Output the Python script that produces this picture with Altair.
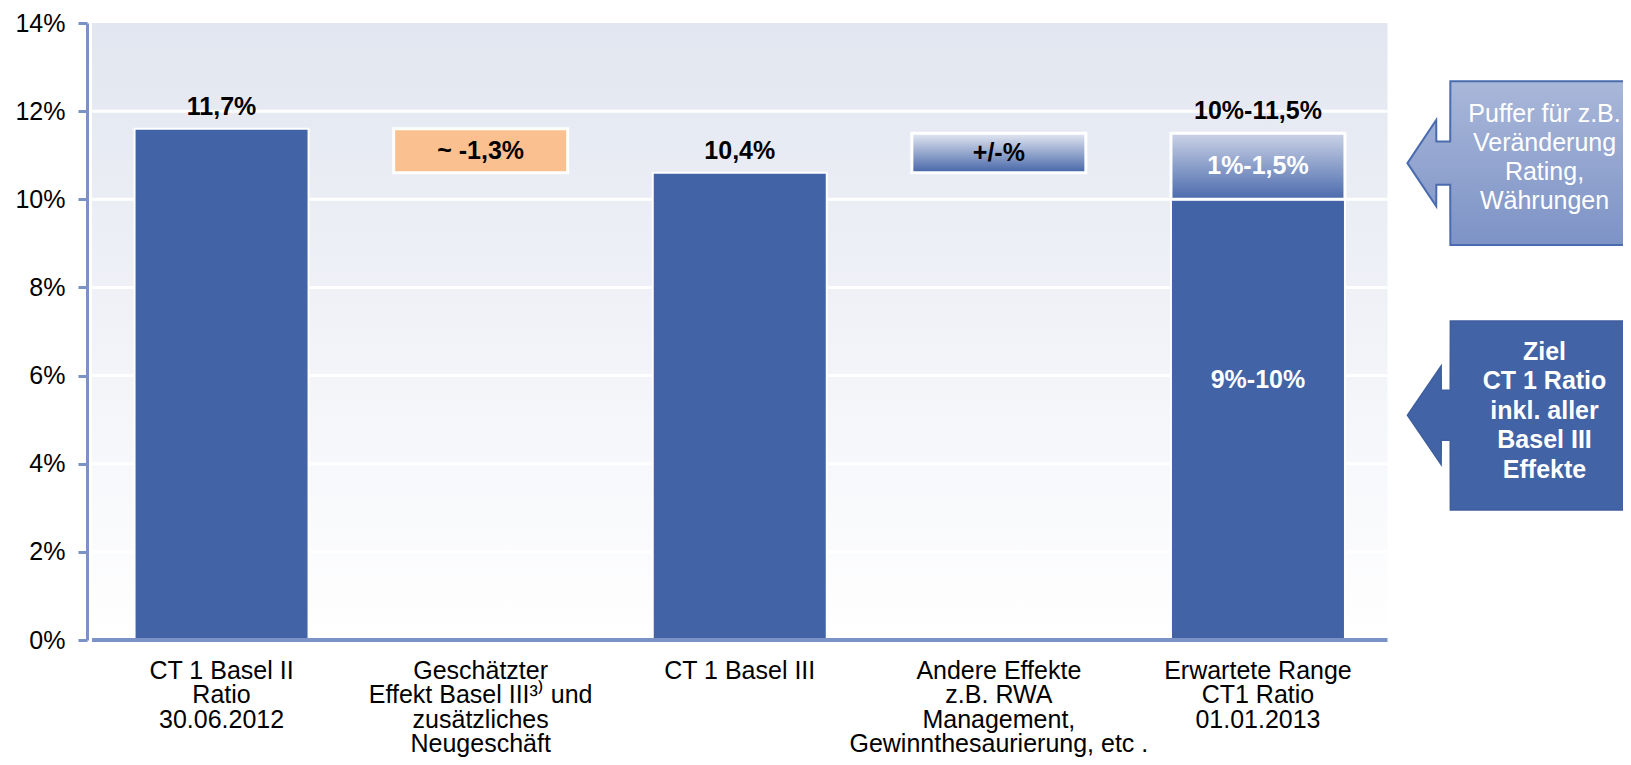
import altair as alt
import pandas as pd

# ---------------- data ----------------
categories = [
    "CT 1 Basel II\nRatio\n30.06.2012",
    "Geschätzter\nEffekt Basel III³⁾ und\nzusätzliches\nNeugeschäft",
    "CT 1 Basel III",
    "Andere Effekte\nz.B. RWA\nManagement,\nGewinnthesaurierung, etc .",
    "Erwartete Range\nCT1 Ratio\n01.01.2013",
]
category_index = [0, 1, 2, 3, 4]

bar_category = [0, 1, 2, 3, 4, 4]
bar_low = [0.0, 10.6, 0.0, 10.6, 0.0, 10.0]
bar_high = [11.6, 11.6, 10.6, 11.5, 10.0, 11.5]
bar_style = ["solid", "orange", "solid", "fade", "solid", "fade2"]

top_label_category = [0, 2, 4]
top_label_text = ["11,7%", "10,4%", "10%-11,5%"]
top_label_value = [11.6, 10.6, 11.5]

inner_label_category = [1, 3, 4, 4]
inner_label_text = ["~ -1,3%", "+/-%", "1%-1,5%", "9%-10%"]
inner_label_value = [11.1, 11.05, 10.75, 5.9]
inner_label_tone = ["dark", "dark", "light", "light"]

y_ticks = [0, 2, 4, 6, 8, 10, 12, 14]

callout_text = [
    "Puffer für z.B.\nVeränderung\nRating,\nWährungen",
    "Ziel\nCT 1 Ratio\ninkl. aller\nBasel III\nEffekte",
]
callout_target = [10.82, 5.1]

# ---------------- layout / style ----------------
PLOT_W, PLOT_H = 1536, 617
BAND_PX = 260.8
X_MAX = PLOT_W / BAND_PX
N_CAT = len(categories)
BAR_PX = 174
FONT = "Liberation Sans"
AXIS_COL = "#7A92C6"
BAR_COL = "#4263A5"
LH_TOP, LH_BOT = 29, 29.5

# callout arrow geometry (annotation units: x in category bands, y in %)
TIP_X, BOX_X, BOX_END, TEXT_X = 5.077, 5.242, 6.2, 5.606
callout_geom = [
    dict(head_x=5.188, head=0.98, neck=0.49, box_up=1.86, box_dn=1.86, text_dy=0.12),
    dict(head_x=5.207, head=1.12, neck=0.565, box_up=2.14, box_dn=2.15, text_dy=0.10),
]


def vgrad(top, bottom):
    return alt.Gradient(
        gradient="linear", x1=0, x2=0, y1=0, y2=1,
        stops=[alt.GradientStop(color=top, offset=0), alt.GradientStop(color=bottom, offset=1)],
    )


xs = alt.Scale(domain=[0, X_MAX], nice=False, zero=False)
ys = alt.Scale(domain=[0, 14], nice=False, zero=True)
yaxis = alt.Axis(
    values=y_ticks, labelExpr="datum.value + '%'", title=None, grid=False,
    domainColor=AXIS_COL, domainWidth=3, tickColor=AXIS_COL, tickWidth=3, tickSize=9,
    labelFontSize=25, labelFont=FONT, labelColor="black", labelPadding=13,
    labelFlush=False, labelOverlap=False, labelBound=False,
)


def X(f):
    return alt.X(f, type="quantitative", scale=xs, axis=None)


def Y(f):
    return alt.Y(f, type="quantitative", scale=ys, axis=yaxis)


# ---------------- tables ----------------
bg_df = pd.DataFrame({"x0": [0], "x1": [N_CAT], "y0": [y_ticks[0]], "y1": [y_ticks[-1]]})
grid_df = pd.DataFrame({"y": y_ticks[1:-1], "x0": 0, "x1": N_CAT})
base_df = pd.DataFrame({"y": [0], "x0": [0], "x1": [N_CAT]})
bars_df = pd.DataFrame({"cat": bar_category, "low": bar_low, "high": bar_high, "style": bar_style})
bars_df["xc"] = bars_df["cat"] + 0.5
top_df = pd.DataFrame({"cat": top_label_category, "text": top_label_text, "v": top_label_value})
top_df["xc"] = top_df["cat"] + 0.5
inner_df = pd.DataFrame({"cat": inner_label_category, "text": inner_label_text,
                         "v": inner_label_value, "tone": inner_label_tone})
inner_df["xc"] = inner_df["cat"] + 0.5
xlab_df = pd.DataFrame({"xc": [i + 0.5 for i in category_index], "y": 0, "text": categories})

arrow_rows = []
text_rows = []
for i, (t, g) in enumerate(zip(callout_target, callout_geom)):
    pts = [
        (TIP_X, t, t),
        (g["head_x"], t + g["head"], t - g["head"]),
        (g["head_x"] + 0.0005, t + g["neck"], t - g["neck"]),
        (BOX_X, t + g["neck"], t - g["neck"]),
        (BOX_X + 0.0005, t + g["box_up"], t - g["box_dn"]),
        (BOX_END, t + g["box_up"], t - g["box_dn"]),
    ]
    for px, a, b in pts:
        arrow_rows.append({"id": i, "x": px, "top": a, "bot": b})
    text_rows.append({"id": i, "x": TEXT_X, "y": t + g["text_dy"], "text": callout_text[i]})
arrow_df = pd.DataFrame(arrow_rows)
ctext_df = pd.DataFrame(text_rows)

n_lines_top = callout_text[0].count("\n")
n_lines_bot = callout_text[1].count("\n")

# ---------------- layers ----------------
background = alt.Chart(bg_df).mark_rect(color=vgrad("#E2E6F0", "#FFFFFF")).encode(
    x=X("x0"), x2="x1", y=Y("y0"), y2="y1")

grid = alt.Chart(grid_df).mark_rule(color="white", strokeWidth=3).encode(
    x=X("x0"), x2="x1", y=Y("y"))


def bar_layer(style, fill, stroke_w):
    return alt.Chart(bars_df).transform_filter(alt.datum.style == style).mark_bar(
        size=BAR_PX, color=fill, stroke="white", strokeWidth=stroke_w).encode(
        x=X("xc"), y=Y("low"), y2="high")


bars_solid = bar_layer("solid", BAR_COL, 2)
bars_orange = bar_layer("orange", "#FAC090", 3)
bars_fade = bar_layer("fade", vgrad("#E4E8F2", "#4565A8"), 3)
bars_fade2 = bar_layer("fade2", vgrad("#CBD3E6", "#4B6AAD"), 3)

baseline = alt.Chart(base_df).mark_rule(color=AXIS_COL, strokeWidth=4).encode(
    x=X("x0"), x2="x1", y=Y("y"))

top_labels = alt.Chart(top_df).mark_text(
    font=FONT, fontSize=25, fontWeight="bold", color="black", baseline="middle", dy=-22).encode(
    x=X("xc"), y=Y("v"), text="text:N")

inner_labels = alt.Chart(inner_df).mark_text(
    font=FONT, fontSize=25, fontWeight="bold", baseline="middle").encode(
    x=X("xc"), y=Y("v"), text="text:N",
    color=alt.Color("tone:N", scale=alt.Scale(domain=["dark", "light"], range=["black", "white"]), legend=None))

x_labels = alt.Chart(xlab_df).mark_text(
    font=FONT, fontSize=25, color="black", baseline="top", align="center",
    lineBreak="\n", lineHeight=24.3, dy=19).encode(
    x=X("xc"), y=Y("y"), text="text:N")

arrow_top = alt.Chart(arrow_df).transform_filter(alt.datum.id == 0).mark_area(
    orient="vertical", color=vgrad("#A9B7D9", "#7D93C6"), stroke="#4A6BAE", strokeWidth=2,
    clip=False).encode(x=X("x"), y=Y("top"), y2="bot")

arrow_bot = alt.Chart(arrow_df).transform_filter(alt.datum.id == 1).mark_area(
    orient="vertical", color=BAR_COL, stroke="#3F5E9E", strokeWidth=1.5,
    clip=False).encode(x=X("x"), y=Y("top"), y2="bot")

ctext_top = alt.Chart(ctext_df).transform_filter(alt.datum.id == 0).mark_text(
    font=FONT, fontSize=25, color="white", baseline="middle", align="center",
    lineBreak="\n", lineHeight=LH_TOP, dy=-n_lines_top * LH_TOP / 2).encode(
    x=X("x"), y=Y("y"), text="text:N")

ctext_bot = alt.Chart(ctext_df).transform_filter(alt.datum.id == 1).mark_text(
    font=FONT, fontSize=25, fontWeight="bold", color="white", baseline="middle", align="center",
    lineBreak="\n", lineHeight=LH_BOT, dy=-n_lines_bot * LH_BOT / 2).encode(
    x=X("x"), y=Y("y"), text="text:N")

chart = alt.layer(
    background, grid, bars_solid, bars_orange, bars_fade, bars_fade2, baseline,
    top_labels, inner_labels, x_labels, arrow_top, arrow_bot, ctext_top, ctext_bot,
).properties(
    width=PLOT_W, height=PLOT_H,
    autosize=alt.AutoSizeParams(type="none"),
    padding={"left": 79, "top": 15, "right": 0, "bottom": 117},
    background="white",
).configure_view(strokeWidth=0)

chart.save("out.html", embed_options={"renderer": "svg", "actions": False})
